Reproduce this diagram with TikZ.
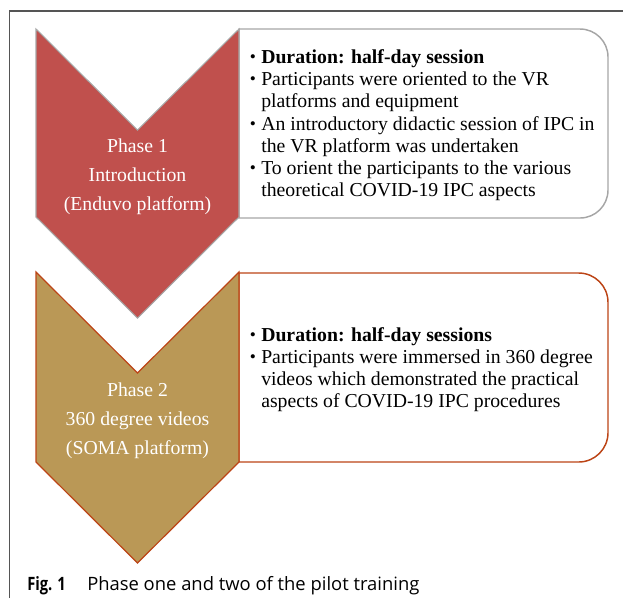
\documentclass[tikz,border=0pt]{standalone}
\usepackage{fontspec}
\setmainfont{Liberation Serif}
\newfontfamily\capfont{Open Sans}
\definecolor{phaseone}{HTML}{C0504D}
\definecolor{phasetwo}{HTML}{BA9856}
\definecolor{edgeone}{HTML}{A6A6A6}
\definecolor{edgetwo}{HTML}{BC4416}
\definecolor{framegray}{HTML}{555555}
\tikzset{
  body/.style={font=\fontsize{14.8pt}{17pt}\selectfont, inner sep=0pt, anchor=base west, text=black},
  phasetxt/.style={font=\fontsize{14.8pt}{17pt}\selectfont, inner sep=0pt, anchor=base, text=white},
  bul/.style={font=\fontsize{13pt}{15pt}\selectfont, inner sep=0pt, anchor=base, text=black},
  captxt/.style={inner sep=0pt, anchor=base west, font=\capfont\fontsize{13.8pt}{16pt}\selectfont},
}
\begin{document}
\begin{tikzpicture}[x=0.75pt,y=-0.75pt]
\useasboundingbox (0,0) rectangle (623,601);
% frame
\draw[framegray, line width=0.9pt] (9.5,598) -- (9.5,11) [rounded corners=0pt] -- (623,11);
% boxes
\draw[edgeone, line width=1.1pt] (239,218) -- (239,29) [rounded corners=21pt] -- (608,29) -- (608,218) [sharp corners] -- cycle;
\draw[edgetwo, line width=1.1pt] (239,462) -- (239,273) [rounded corners=22pt] -- (608,273) -- (608,462) [sharp corners] -- cycle;
% chevrons
\draw[fill=phaseone, draw=edgeone, line width=0.8pt] (36,29) -- (137.5,130) -- (239,29) -- (239,217) -- (137.5,318) -- (36,217) -- cycle;
\draw[fill=phasetwo, draw=edgetwo, line width=0.9pt] (36,272) -- (137.5,373) -- (239,272) -- (239,462) -- (137.5,563) -- (36,462) -- cycle;
% phase texts
\node[phasetxt] (p1a) at (137.5,152) {Phase 1};
\node[phasetxt] (p1b) at (137.5,181) {Introduction};
\node[phasetxt] (p1c) at (137.5,210) {(Enduvo platform)};
\node[phasetxt] (p2a) at (137.5,396) {Phase 2};
\node[phasetxt] (p2b) at (137.5,425) {360 degree videos};
\node[phasetxt] (p2c) at (137.5,454) {(SOMA platform)};
% box 1 text
\node[bul] (b11) at (253,62) {\textbullet};
\node[body] (t11) at (261,63) {\textbf{Duration: half-day session}};
\node[bul] (b12) at (253,84) {\textbullet};
\node[body] (t12) at (261,85) {Participants were oriented to the VR};
\node[body] (t12b) at (261,107) {platforms and equipment};
\node[bul] (b13) at (253,129) {\textbullet};
\node[body] (t13) at (261,130) {An introductory didactic session of IPC in};
\node[body] (t13b) at (261,152) {the VR platform was undertaken};
\node[bul] (b14) at (253,173) {\textbullet};
\node[body] (t14) at (261,174) {To orient the participants to the various};
\node[body] (t14b) at (261,196) {theoretical COVID-19 IPC aspects};
% box 2 text
\node[bul] (b21) at (253,340) {\textbullet};
\node[body] (t21) at (261,341) {\textbf{Duration: half-day sessions}};
\node[bul] (b22) at (253,362) {\textbullet};
\node[body] (t22) at (261,363) {Participants were immersed in 360 degree};
\node[body] (t22b) at (261,385) {videos which demonstrated the practical};
\node[body] (t22c) at (261,407) {aspects of COVID-19 IPC procedures};
% caption
\node[captxt] (figlbl) at (27,590) {\scalebox{0.8}[1]{\textbf{Fig. 1}}};
\node[captxt] (cap) at (87,590) {Phase one and two of the pilot training};
\end{tikzpicture}
\end{document}
